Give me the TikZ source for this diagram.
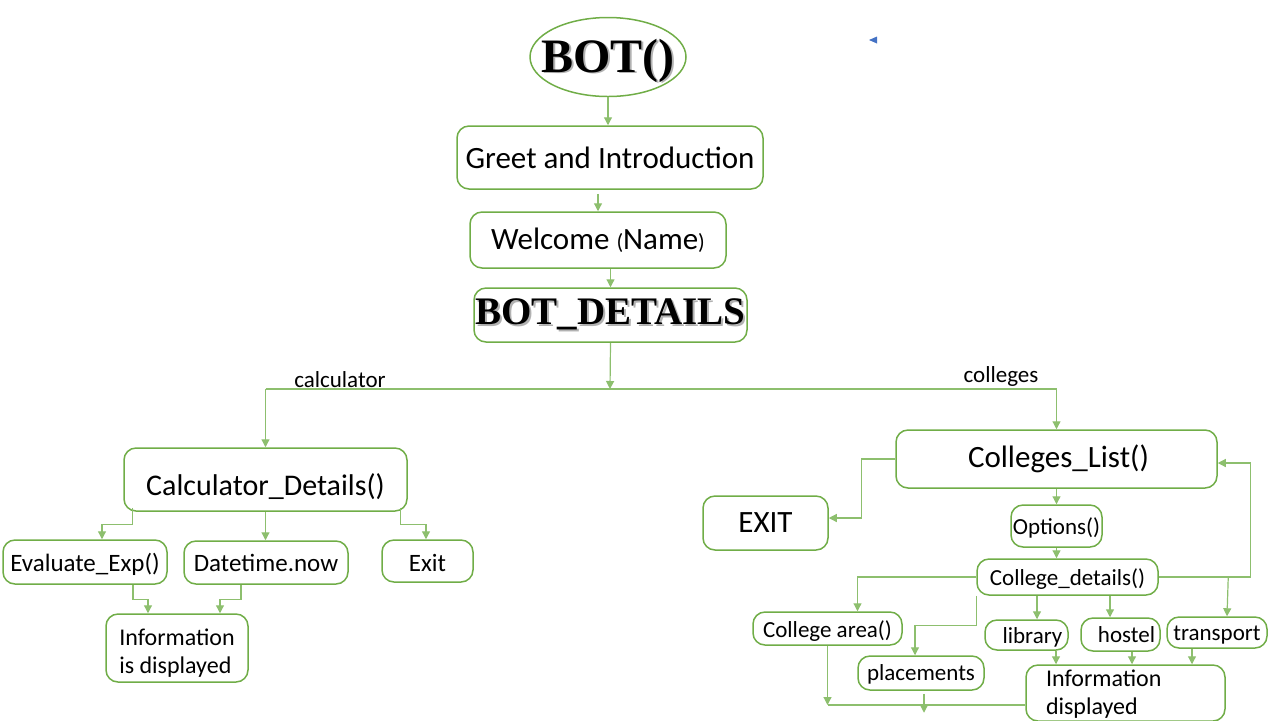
\documentclass[tikz,border=0pt]{standalone}
\usepackage{fontspec}
\setmainfont{Carlito}
\newfontfamily\algfont{Liberation Serif}
\usetikzlibrary{arrows.meta,shapes.geometric,calc}
\definecolor{boxgreen}{HTML}{70AD47}
\definecolor{wiregreen}{HTML}{8DBF6E}
\definecolor{markblue}{HTML}{4472C4}
\newcommand{\shadowed}[1]{\rlap{\textcolor{black!30}{\kern0.9pt\raisebox{-0.9pt}{#1}}}#1}
\newcommand{\twolines}[2]{\begin{tabular}{@{}l@{}}#1\\#2\end{tabular}}
\newcommand{\sinktext}[2]{\raisebox{-#1}[\height][\depth]{#2}}
\tikzset{
  flowbox/.style={draw=boxgreen, line width=0.75pt, rounded corners=6pt, inner sep=0pt, fill=white},
  bigtxt/.style={font=\fontsize{15.5}{18}\selectfont},
  midtxt/.style={font=\fontsize{12.5}{14}\selectfont},
  smalltxt/.style={font=\fontsize{11.5}{14}\selectfont},
  flowline/.style={draw=wiregreen, line width=0.6pt, -{Triangle[length=4pt,width=4pt]}},
  plainline/.style={draw=wiregreen, line width=0.6pt},
}
\begin{document}
\begin{tikzpicture}[x=0.5pt,y=-0.5pt]
\useasboundingbox (0,0) rectangle (1280,720);
% main chain
\node[ellipse, draw=boxgreen, line width=0.75pt, minimum width=78pt, minimum height=39.5pt, inner sep=0pt] (bot) at (608,57) {};
\node[font=\algfont\bfseries\fontsize{24}{26}\selectfont, inner sep=0pt, anchor=base] (bottext) at ($(bot.center)+(0,15)$) {\shadowed{BOT()}};
\node[flowbox, bigtxt, minimum width=153pt, minimum height=31.5pt] (greet) at (610,157.5) {Greet and Introduction};
\node[flowbox, bigtxt, minimum width=128pt, minimum height=28pt] (welcome) at (598,240)
      {Welcome {\fontsize{11}{13}\selectfont(}Name{\fontsize{11}{13}\selectfont)}};
\node[flowbox, minimum width=136.5pt, minimum height=27pt,
      font=\algfont\bfseries\fontsize{19.5}{21}\selectfont] (details) at (610.5,315) {\shadowed{BOT\_DETAILS}};
\fill[markblue] (869,40) -- (877,36.5) -- (877,43.5) -- cycle;

\draw[flowline] (bot.south) -- (bot.south |- greet.north);
\draw[flowline] ($(greet.south -| welcome.north)+(0,4)$) -- (welcome.north);
\draw[flowline] (details.north |- welcome.south) -- (details.north);

% split
\coordinate (split) at (610,389);
\draw[flowline] (details.south) -- (split);
\node[smalltxt, anchor=base] (calclabel) at (340,387) {calculator};
\node[smalltxt, anchor=base] (collabel) at (1001,382) {colleges};

% calculator side
\node[flowbox, font=\fontsize{15}{18}\selectfont, minimum width=141.5pt, minimum height=31.5pt] (calc) at (265.5,479.5) {\sinktext{3.5pt}{Calculator\_Details()}};
\node[flowbox, midtxt, minimum width=82pt, minimum height=22pt] (evalexp) at (85,562) {\sinktext{1pt}{Evaluate\_Exp()}};
\node[flowbox, midtxt, minimum width=82pt, minimum height=21.5pt] (datetime) at (266,562.5) {Datetime.now};
\node[flowbox, midtxt, minimum width=45.5pt, minimum height=21pt] (exitcalc) at (427.5,561) {\sinktext{1pt}{Exit}};
\node[flowbox, font=\fontsize{12}{14}\selectfont, minimum width=71pt, minimum height=34pt] (infocalc) at (177,648)
      {\sinktext{3pt}{\twolines{Information}{is displayed}}};

% colleges side
\node[flowbox, bigtxt, minimum width=160.5pt, minimum height=29pt] (colleges) at (1056.5,459) {\kern2pt Colleges\_List()};
\node[flowbox, bigtxt, minimum width=62.5pt, minimum height=27pt] (exitcol) at (765.5,523) {EXIT};
\node[flowbox, smalltxt, minimum width=45.5pt, minimum height=21pt] (options) at (1056.5,526) {\sinktext{1pt}{Options()}};
\node[flowbox, smalltxt, minimum width=90.5pt, minimum height=18pt] (cdetails) at (1067.5,577) {\sinktext{1pt}{College\_details()}};
\node[flowbox, smalltxt, minimum width=74.5pt, minimum height=16.5pt] (carea) at (827.5,628.5) {\sinktext{1.5pt}{College area()}};
\node[flowbox, smalltxt, minimum width=63pt, minimum height=17pt] (placements) at (921,673) {\sinktext{0.5pt}{placements}};
\node[flowbox, smalltxt, minimum width=41.5pt, minimum height=15pt] (library) at (1026.5,635) {\sinktext{1pt}{\kern6pt library}};
\node[flowbox, smalltxt, minimum width=39.5pt, minimum height=16.5pt] (hostel) at (1120.5,634.5) {\kern6pt hostel};
\node[flowbox, smalltxt, minimum width=50pt, minimum height=15.5pt] (transport) at (1217,632.5) {\sinktext{1.5pt}{transport}};
\node[flowbox, font=\fontsize{12}{14}\selectfont, text width=79.5pt, inner xsep=10pt,
      minimum height=25pt] (infocol) at (1125.5,693) {\sinktext{1pt}{\twolines{Information}{displayed}}};

% branches from split
\draw[plainline] (calc.north |- split) -- (colleges.north |- split);
\draw[flowline] (calc.north |- split) -- (calc.north);
\draw[flowline] (colleges.north |- split) -- (colleges.north);

% calculator links
\draw[flowline] ($(calc.south west)+(9,-4)$) -- ++(0,17) -| ($(evalexp.north)+(17,0)$);
\draw[flowline] (calc.south) -- (calc.south |- datetime.north);
\draw[flowline] ($(calc.south east)+(-7,-4)$) -- ++(0,17) -| ($(exitcalc.north)+(-1.5,0)$);
\draw[flowline] ($(evalexp.south)+(48,0)$) -- ++(0,15) -| ($(infocalc.north)+(-29,0)$);
\draw[flowline] ($(datetime.south)+(-25,0)$) -- ++(0,15) -| ($(infocalc.north)+(43,0)$);

% colleges links
\draw[flowline] (colleges.west) -- ++(-34,0) |- ($(exitcol.east)+(0,-5)$);
\draw[flowline] (colleges.south) -- (options.north);
\draw[flowline] (options.south) -- (options.south |- cdetails.north);
\draw[flowline] (cdetails.west) -| ($(carea.north)+(30,0)$);
\draw[flowline] (cdetails.south west) -- ++(0,30) -| ($(placements.north)+(-6,0)$);
\draw[flowline] ($(cdetails.south)+(-30.5,0)$) -- ($(library.north)+(10.5,0)$);
\draw[flowline] ($(cdetails.south)+(42.5,0)$) -- ($(hostel.north)+(-10.5,0)$);
\draw[flowline] (cdetails.east) -- ++(92,0) |- ($(colleges.east)+(0,4)$);
\draw[flowline] ($(cdetails.east)+(69.5,0)$) -- ($(transport.north)+(10,0)$);
\draw[flowline] ($(library.south)+(29.5,0)$) -- ($(infocol.north)+(-69.5,0)$);
\draw[flowline] ($(hostel.south)+(11.5,0)$) -- ($(infocol.north)+(6.5,0)$);
\draw[flowline] ($(transport.south)+(-25,0)$) -- ($(infocol.north)+(66.5,0)$);
\coordinate (joinpt) at ($(infocol.west)+(0,12)$);
\draw[plainline] (joinpt) -- (joinpt -| carea.south);
\draw[flowline] (carea.south) -- (carea.south |- joinpt);
\draw[flowline] ($(placements.south)+(3,3)$) -- ++(0,19);
\end{tikzpicture}
\end{document}
